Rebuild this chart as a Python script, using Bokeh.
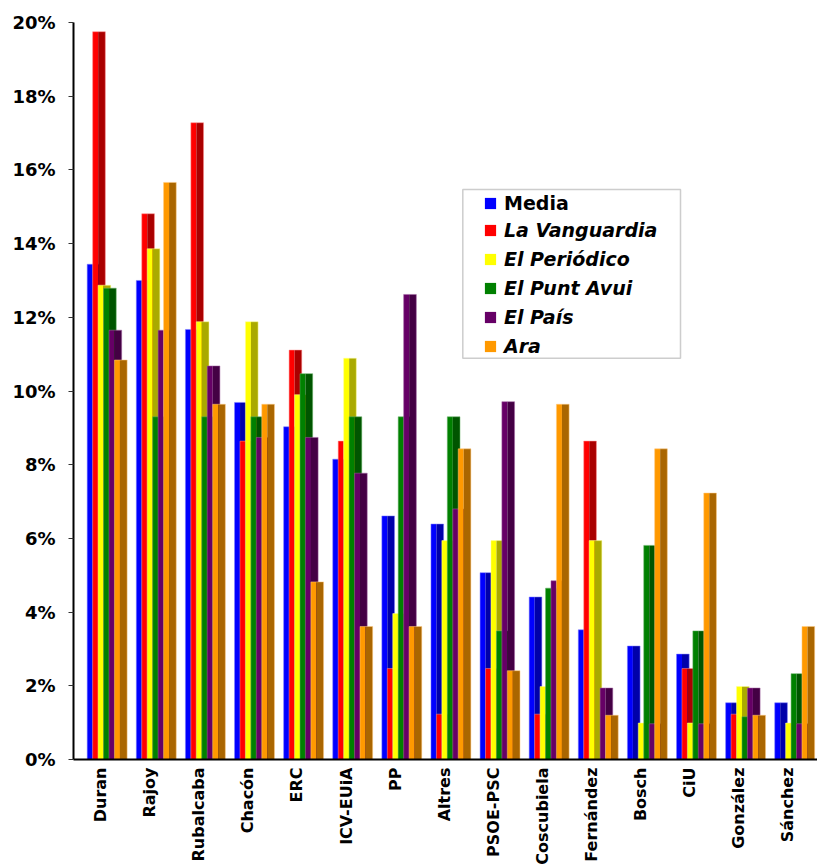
from math import pi
from bokeh.plotting import figure
from bokeh.models import (ColumnDataSource, Range1d, FixedTicker, PrintfTickFormatter,
                          Legend, LegendItem, BoxAnnotation)
from bokeh.transform import dodge
from bokeh.embed import file_html
from bokeh.resources import INLINE

# ---------------- data (percent) ----------------
categories = ["Duran", "Rajoy", "Rubalcaba", "Chacón", "ERC", "ICV-EUiA", "PP", "Altres",
              "PSOE-PSC", "Coscubiela", "Fernández", "Bosch", "CiU", "González", "Sánchez"]
series_names = ["Media", "La Vanguardia", "El Periódico", "El Punt Avui", "El País", "Ara"]

media         = [13.44, 13.00, 11.67, 9.69, 9.03, 8.15, 6.61, 6.39, 5.07, 4.41, 3.52, 3.08, 2.86, 1.54, 1.54]
la_vanguardia = [19.75, 14.81, 17.28, 8.64, 11.11, 8.64, 2.47, 1.23, 2.47, 1.23, 8.64, 0.00, 2.47, 1.23, 0.00]
el_periodico  = [12.87, 13.86, 11.88, 11.88, 9.90, 10.89, 3.96, 5.94, 5.94, 1.98, 5.94, 0.99, 0.99, 1.98, 0.99]
el_punt_avui  = [12.79, 9.30, 9.30, 9.30, 10.47, 9.30, 9.30, 9.30, 3.49, 4.65, 0.00, 5.81, 3.49, 1.16, 2.33]
el_pais       = [11.65, 11.65, 10.68, 8.74, 8.74, 7.77, 12.62, 6.80, 9.71, 4.85, 1.94, 0.97, 0.97, 1.94, 0.97]
ara           = [10.84, 15.66, 9.64, 9.64, 4.82, 3.61, 3.61, 8.43, 2.41, 9.64, 1.20, 8.43, 7.23, 1.20, 3.61]

y_ticks = [0, 2, 4, 6, 8, 10, 12, 14, 16, 18, 20]

# ---------------- styles ----------------
bright = ["#0000FF", "#FF0000", "#FFFF00", "#008000", "#660066", "#FF9900"]
dark   = ["#0000AA", "#AA0000", "#AAAA00", "#005500", "#440044", "#AA6600"]
edge   = ["#8080FF", "#FF9090", "#FFFF99", "#66B366", "#A366A3", "#FFCC80"]

cols = ["media", "la_vanguardia", "el_periodico", "el_punt_avui", "el_pais", "ara"]
src = ColumnDataSource(dict(idx=list(range(len(categories))), cat=categories,
                            media=media, la_vanguardia=la_vanguardia, el_periodico=el_periodico,
                            el_punt_avui=el_punt_avui, el_pais=el_pais, ara=ara))

W, H = 817, 867
FR_L, FR_T, FR_B = 73, 22, 760
X0, X1 = -0.549, 14.601
p = figure(width=W, height=H, output_backend="svg", toolbar_location=None,
           x_range=Range1d(X0, X1), y_range=Range1d(0, 20),
           min_border_left=FR_L, min_border_right=0, min_border_top=FR_T,
           min_border_bottom=H - FR_B)
p.outline_line_color = None
p.xgrid.visible = False
p.ygrid.visible = False
p.background_fill_color = "white"
p.border_fill_color = "white"

FIRST = -0.27
STEP = 0.111
FULL = 0.258
BR = 0.112
DK = FULL - BR

for k, col in enumerate(cols):
    left = FIRST + STEP * k
    p.vbar(x=dodge("idx", left + BR / 2), top=col, bottom=0, width=BR, source=src,
           fill_color=bright[k], line_color=None)
    p.vbar(x=dodge("idx", left + BR + DK / 2), top=col, bottom=0, width=DK, source=src,
           fill_color=dark[k], line_color=None)
    p.vbar(x=dodge("idx", left + FULL / 2), top=col, bottom=0, width=FULL, source=src,
           fill_color=None, line_color=edge[k], line_alpha=0.5, line_width=1)

# legend proxies (square markers, not drawn in the plot)
proxies = []
for k, col in enumerate(cols):
    r = p.scatter(x="idx", y=col, source=src, marker="square", size=11,
                  fill_color=bright[k], line_color=None, visible=False)
    proxies.append(r)

# ---------------- axes ----------------
ya = p.yaxis[0]
ya.ticker = FixedTicker(ticks=y_ticks)
ya.formatter = PrintfTickFormatter(format="%d%%")
ya.axis_line_width = 2
ya.axis_line_color = "black"
ya.major_tick_out = 5
ya.major_tick_in = 0
ya.major_tick_line_color = "#333333"
ya.minor_tick_line_color = None
ya.major_label_text_font = "DejaVu Sans"
ya.major_label_text_font_style = "bold"
ya.major_label_text_font_size = "18px"
ya.major_label_text_color = "black"
ya.major_label_standoff = 13

xa = p.xaxis[0]
xa.ticker = FixedTicker(ticks=list(range(len(categories))))
xa.major_label_overrides = {i: c for i, c in enumerate(categories)}
xa.major_label_orientation = pi / 2
xa.axis_line_width = 2
xa.axis_line_color = "black"
xa.major_tick_line_color = None
xa.major_tick_out = 0
xa.major_tick_in = 0
xa.minor_tick_line_color = None
xa.major_label_standoff = 8
xa.major_label_text_font = "DejaVu Sans"
xa.major_label_text_font_style = "bold"
xa.major_label_text_font_size = "16px"
xa.major_label_text_color = "black"

# ---------------- legend ----------------
SX = (W - FR_L) / (X1 - X0)
SY = (FR_B - FR_T) / 20.0
def px_x(px):
    return X0 + (px - FR_L) / SX
def px_y(py):
    return (FR_B - py) / SY

box = BoxAnnotation(left=px_x(462.3), right=px_x(680.0), top=px_y(189.3), bottom=px_y(358.3),
                    fill_color="white", fill_alpha=1.0, line_color="#5a5a5a", line_width=1.5)
p.add_layout(box)

common = dict(border_line_color=None, background_fill_alpha=0, padding=0, margin=0,
              glyph_width=28, glyph_height=28, label_height=28, label_standoff=-2,
              label_text_font="DejaVu Sans", label_text_font_size="19px",
              label_text_color="black")

leg_a = Legend(items=[LegendItem(label=series_names[0], renderers=[proxies[0]])],
               location=(476 - FR_L, FR_B - 217.7), spacing=0,
               label_text_font_style="bold", **common)
leg_b = Legend(items=[LegendItem(label=series_names[k], renderers=[proxies[k]]) for k in range(1, 6)],
               location=(476 - FR_L, FR_B - 361.2), spacing=1,
               label_text_font_style="bold italic", **common)
p.add_layout(leg_a)
p.add_layout(leg_b)

open("out.html", "w").write(file_html(p, INLINE))
